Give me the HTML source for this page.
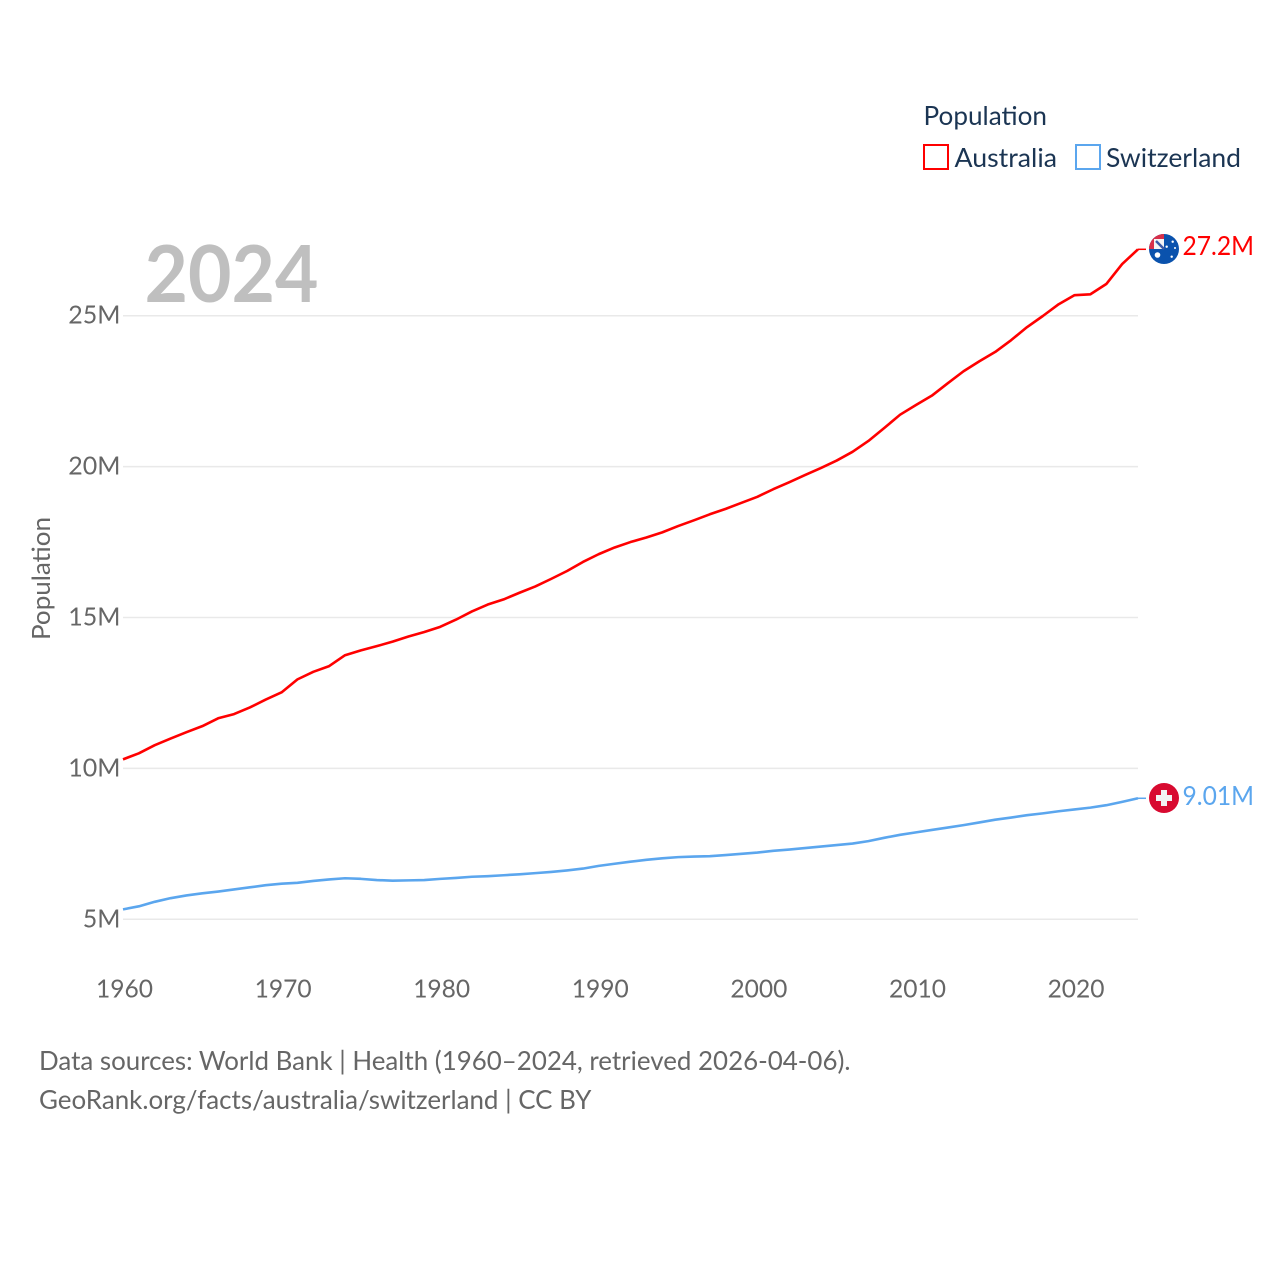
<!DOCTYPE html>
<html lang="en">
<head>
<meta charset="utf-8">
<title>Population: Australia and Switzerland</title>
<style>
html,body{margin:0;padding:0;background:#fff;width:1280px;height:1280px;overflow:hidden}
svg{display:block}
text{font-family:"Lato","Carlito","Liberation Sans",sans-serif}
</style>
</head>
<body>
<svg id="chart" xmlns="http://www.w3.org/2000/svg" width="1280" height="1280" viewBox="0 0 1280 1280">
  <defs>
    <clipPath id="au-clip"><circle cx="1164" cy="249" r="15"/></clipPath>
    <clipPath id="ch-clip"><circle cx="1164" cy="798" r="15"/></clipPath>
  </defs>
  <g id="grid"></g>
  <g id="ytick-labels"></g>
  <g id="xtick-labels"></g>
  <text x="144.5" y="302" font-size="79" font-weight="700" fill="#bfbfbf" textLength="174" lengthAdjust="spacingAndGlyphs">2024</text>
  <text transform="translate(50,640) rotate(-90)" font-size="25" fill="#666" textLength="123" lengthAdjust="spacingAndGlyphs">Population</text>
  <g id="series"></g>

  <g clip-path="url(#au-clip)">
    <rect x="1149" y="234" width="30" height="30" fill="#0a52ad"/>
    <rect x="1149" y="234" width="15" height="15" fill="#d8304a"/>
    <rect x="1154" y="239" width="10" height="10" fill="#f4f4f4"/>
    <path d="M1156 241l8 8" stroke="#3a5aa8" stroke-width="2.5"/>
    <circle cx="1157.5" cy="255" r="2.8" fill="#fff"/>
    <circle cx="1172.7" cy="241.7" r="1.2" fill="#fff"/>
    <circle cx="1166.7" cy="246.7" r="1.2" fill="#fff"/>
    <circle cx="1175" cy="248" r="1" fill="#fff"/>
    <circle cx="1171.7" cy="256.7" r="1.2" fill="#fff"/>
  </g>
  <g clip-path="url(#ch-clip)">
    <rect x="1149" y="783" width="30" height="30" fill="#d80a30"/>
    <path d="M1161 790h6v5h5v6h-5v5h-6v-5h-5v-6h5z" fill="#f2f2f2"/>
  </g>
  <text x="1182.5" y="255" font-size="26" fill="#ff0000" textLength="71.5" lengthAdjust="spacingAndGlyphs">27.2M</text>
  <text x="1182.5" y="805" font-size="26" fill="#5ba6ee" textLength="71.5" lengthAdjust="spacingAndGlyphs">9.01M</text>

  <g>
    <text x="923.5" y="125" font-size="26" fill="#1b3553" textLength="123.5" lengthAdjust="spacingAndGlyphs">Population</text>
    <g>
      <rect x="924" y="145" width="24" height="24" fill="#fff" stroke="#ff0000" stroke-width="2"/>
      <text x="954.5" y="167" font-size="26" fill="#1b3553" textLength="102.5" lengthAdjust="spacingAndGlyphs">Australia</text>
    </g>
    <g>
      <rect x="1076" y="145" width="24" height="24" fill="#fff" stroke="#5ba6ee" stroke-width="2"/>
      <text x="1106" y="167" font-size="26" fill="#1b3553" textLength="135" lengthAdjust="spacingAndGlyphs">Switzerland</text>
    </g>
  </g>

  <text x="39" y="1070" font-size="26" fill="#666" textLength="811.5" lengthAdjust="spacingAndGlyphs">Data sources: World Bank | Health (1960–2024, retrieved 2026-04-06).</text>
  <text x="39" y="1109" font-size="26" fill="#666" textLength="552.5" lengthAdjust="spacingAndGlyphs">GeoRank.org/facts/australia/switzerland | CC BY</text>
</svg>
<script>
const startYear = 1960;
const yTicks = [5, 10, 15, 20, 25];
const yTickLabels = ["5M", "10M", "15M", "20M", "25M"];
const xTicks = [1960, 1970, 1980, 1990, 2000, 2010, 2020];
const xTickLabels = ["1960", "1970", "1980", "1990", "2000", "2010", "2020"];
const australia = [10.30,10.50,10.77,10.99,11.20,11.40,11.66,11.80,12.02,12.28,
  12.52,12.95,13.20,13.39,13.75,13.91,14.05,14.20,14.37,14.52,
  14.69,14.93,15.20,15.43,15.60,15.82,16.03,16.28,16.54,16.84,
  17.10,17.32,17.50,17.65,17.82,18.03,18.22,18.42,18.60,18.80,
  19.00,19.25,19.48,19.72,19.95,20.20,20.49,20.85,21.28,21.72,
  22.04,22.35,22.76,23.16,23.49,23.80,24.19,24.62,24.99,25.38,
  25.68,25.71,26.05,26.71,27.20];
const switzerland = [5.33,5.43,5.58,5.70,5.79,5.86,5.92,5.99,6.06,6.13,
  6.18,6.21,6.27,6.32,6.36,6.34,6.30,6.28,6.29,6.30,
  6.34,6.37,6.41,6.43,6.46,6.49,6.53,6.57,6.62,6.68,
  6.77,6.84,6.91,6.97,7.02,7.06,7.08,7.09,7.13,7.17,
  7.21,7.27,7.31,7.36,7.41,7.46,7.51,7.59,7.70,7.80,
  7.88,7.96,8.04,8.12,8.21,8.30,8.37,8.45,8.51,8.58,
  8.64,8.70,8.78,8.89,9.01];

const NS = "http://www.w3.org/2000/svg";
const xScale = year => 123 + (year - 1960) * (1138 - 123) / 64;
const yScale = value => 919.3 - (value - 5) * (919.3 - 315.7) / 20;

function make(tag, parent, attrs) {
  const el = document.createElementNS(NS, tag);
  Object.keys(attrs).forEach(k => el.setAttribute(k, attrs[k]));
  parent.appendChild(el);
  return el;
}

const grid = document.getElementById("grid");
const yLabels = document.getElementById("ytick-labels");
yTicks.forEach((t, i) => {
  const line = make("line", grid, {x1: 123, x2: 1138, y1: yScale(t), y2: yScale(t), stroke: "#e9e9e9", "stroke-width": 1.5});
  
  
  const label = make("text", yLabels, {x: 120.5, y: yScale(t) + 8, "text-anchor": "end", "font-size": 25, fill: "#666"});
  
  
  label.textContent = yTickLabels[i];
});

const xLabels = document.getElementById("xtick-labels");
xTicks.forEach((t, i) => {
  const label = make("text", xLabels, {x: xScale(t) + 1.5, y: 997.5, "text-anchor": "middle", "font-size": 25, fill: "#666", textLength: 57, lengthAdjust: "spacingAndGlyphs"});
  
  
  label.textContent = xTickLabels[i];
});

const seriesGroup = document.getElementById("series");
function drawSeries(values, color, name) {
  const pts = values.map((v, i) => xScale(startYear + i).toFixed(2) + "," + yScale(v).toFixed(2));
  const last = values[values.length - 1];
  const path = make("polyline", seriesGroup, {points: pts.join(" "), fill: "none", stroke: color, "stroke-width": 2.6, "stroke-linejoin": "round"});
  
  
  const lead = make("line", seriesGroup, {x1: 1138, x2: 1146, y1: yScale(last), y2: yScale(last), stroke: color, "stroke-width": 1.5});
  
  
}
drawSeries(australia, "#ff0000", "australia-line");
drawSeries(switzerland, "#5ba6ee", "switzerland-line");
</script>
</body>
</html>
